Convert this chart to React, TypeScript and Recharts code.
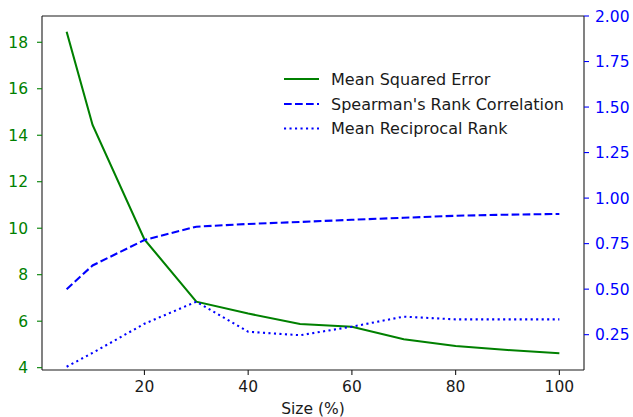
import React from "react";
import { LineChart, Line, XAxis, YAxis, ReferenceLine } from "recharts";

const sizes = [5, 10, 20, 30, 40, 50, 60, 70, 80, 90, 100];
const mse = [18.45, 14.44, 9.52, 6.84, 6.33, 5.88, 5.76, 5.22, 4.93, 4.76, 4.62];
const spearman = [0.5, 0.63, 0.77, 0.843, 0.858, 0.869, 0.881, 0.892, 0.903, 0.909, 0.913];
const mrr = [0.074, 0.15, 0.31, 0.431, 0.266, 0.247, 0.294, 0.349, 0.334, 0.334, 0.334];

const xTicks = [20, 40, 60, 80, 100];
const leftTicks = [4, 6, 8, 10, 12, 14, 16, 18];
const rightTicks = [0.25, 0.5, 0.75, 1.0, 1.25, 1.5, 1.75, 2.0];

const seriesNames = ["Mean Squared Error", "Spearman's Rank Correlation", "Mean Reciprocal Rank"];
const seriesColors = ["#008000", "#0000ff", "#0000ff"];
const seriesDash = [undefined, "7.7 3.3", "2.1 3.4"];

const data = sizes.map((s, i) => ({ size: s, mse: mse[i], spearman: spearman[i], mrr: mrr[i] }));

const FONT = "DejaVu Sans";
const FS = 15.5;
const LEGEND_FS = 16;
const FRAME = "#1a1a1a";

export default function App() {
  return (
    <div style={{ position: "absolute", left: 0, top: 0, width: 633, height: 417, background: "#fff" }}>
      <LineChart
        width={633}
        height={417}
        data={data}
        margin={{ top: 16, right: 0, bottom: 0, left: 0 }}
        style={{ fontFamily: FONT }}
      >
        <XAxis
          dataKey="size"
          type="number"
          domain={[0.25, 104.75]}
          ticks={xTicks}
          height={47}
          tickSize={5}
          tickMargin={6}
          axisLine={{ stroke: FRAME, strokeWidth: 1.1 }}
          tickLine={{ stroke: FRAME, strokeWidth: 1.1 }}
          tick={{ fill: FRAME, fontSize: FS, fontFamily: FONT }}
          label={{ value: "Size (%)", position: "insideBottom", offset: 3, fill: FRAME, fontSize: FS, fontFamily: FONT }}
        />
        <YAxis
          yAxisId="left"
          orientation="left"
          type="number"
          domain={[3.9, 19.13]}
          ticks={leftTicks}
          width={42}
          tickSize={5}
          tickMargin={9}
          axisLine={{ stroke: FRAME, strokeWidth: 1.1 }}
          tickLine={{ stroke: "#008000", strokeWidth: 1.1 }}
          tick={{ fill: "#008000", fontSize: FS, fontFamily: FONT }}
        />
        <YAxis
          yAxisId="right"
          orientation="right"
          type="number"
          domain={[0.056, 2.0]}
          ticks={rightTicks}
          width={49}
          tickSize={5}
          tickMargin={6}
          tickFormatter={(v: number) => v.toFixed(2)}
          axisLine={{ stroke: FRAME, strokeWidth: 1.1 }}
          tickLine={{ stroke: "#0000ff", strokeWidth: 1.1 }}
          tick={{ fill: "#0000ff", fontSize: FS, fontFamily: FONT }}
        />
        <ReferenceLine yAxisId="right" y={2.0} stroke={FRAME} strokeWidth={1.1} />
        <Line
          yAxisId="left"
          type="linear"
          dataKey="mse"
          name={seriesNames[0]}
          stroke={seriesColors[0]}
          strokeWidth={2.08}
          dot={false}
          activeDot={false}
          isAnimationActive={false}
        />
        <Line
          yAxisId="right"
          type="linear"
          dataKey="spearman"
          name={seriesNames[1]}
          stroke={seriesColors[1]}
          strokeWidth={2.08}
          strokeDasharray={seriesDash[1]}
          dot={false}
          activeDot={false}
          isAnimationActive={false}
        />
        <Line
          yAxisId="right"
          type="linear"
          dataKey="mrr"
          name={seriesNames[2]}
          stroke={seriesColors[2]}
          strokeWidth={2.08}
          strokeDasharray={seriesDash[2]}
          dot={false}
          activeDot={false}
          isAnimationActive={false}
        />
      </LineChart>
      <svg
        width={633}
        height={417}
        style={{ position: "absolute", left: 0, top: 0, pointerEvents: "none" }}
      >
        {seriesNames.map((name, i) => {
          const y = [79, 104, 128.5][i];
          return (
            <g key={name}>
              <line
                x1={284}
                x2={319}
                y1={y}
                y2={y}
                stroke={seriesColors[i]}
                strokeWidth={2.08}
                strokeDasharray={seriesDash[i]}
              />
              <text
                x={331}
                y={y}
                dominantBaseline="central"
                fill={FRAME}
                fontSize={LEGEND_FS}
                fontFamily={FONT}
              >
                {name}
              </text>
            </g>
          );
        })}
      </svg>
    </div>
  );
}
